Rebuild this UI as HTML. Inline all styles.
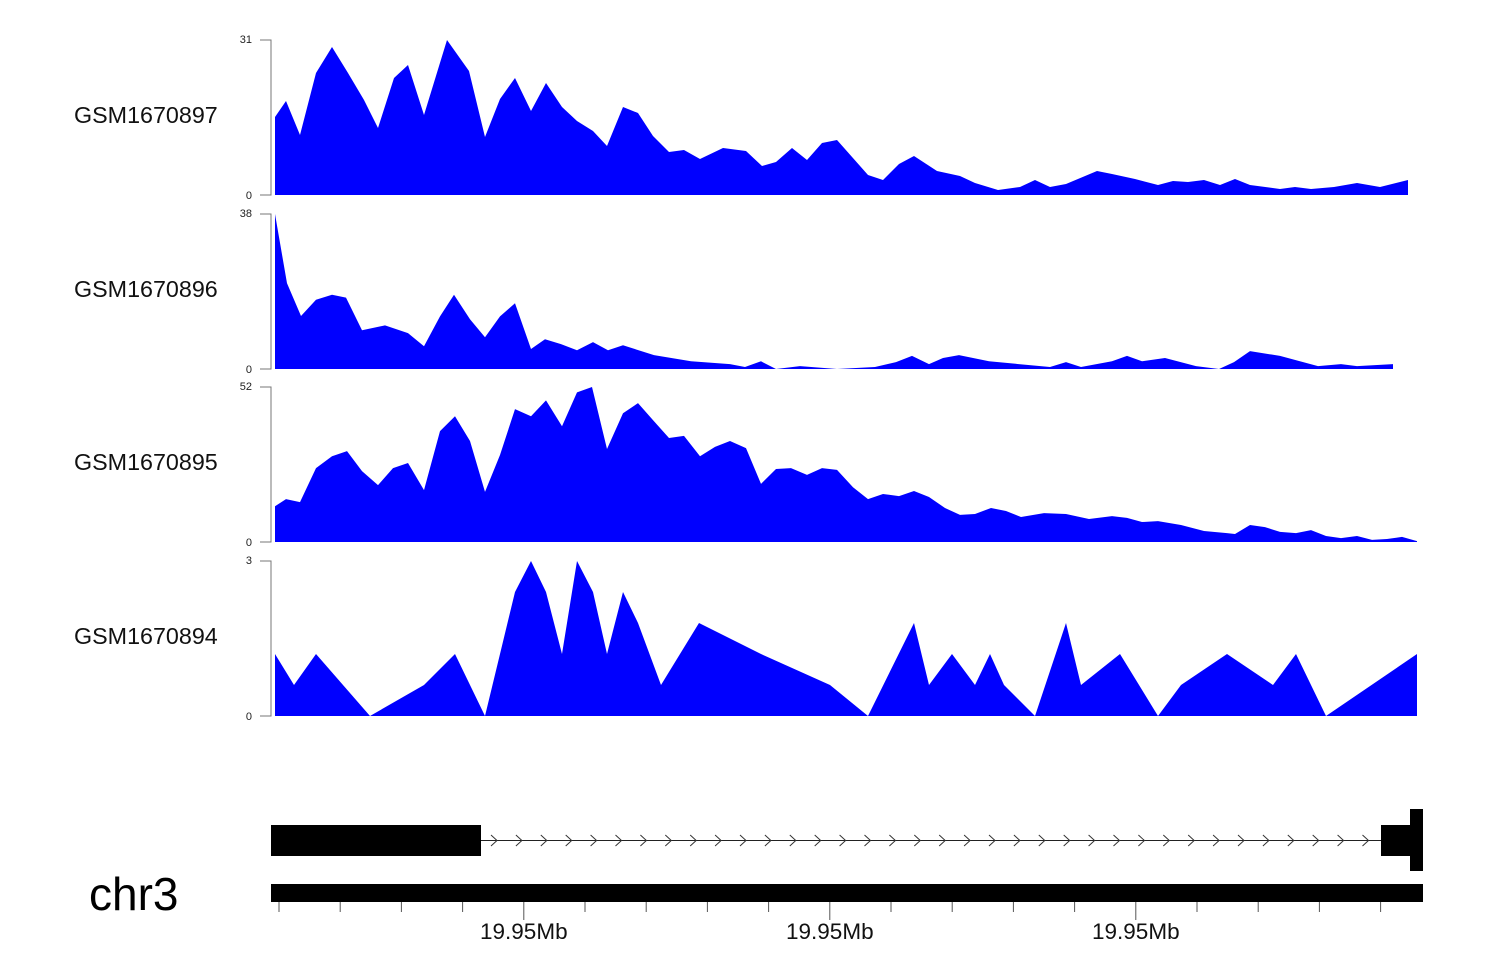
<!DOCTYPE html>
<html><head><meta charset="utf-8"><style>
html,body{margin:0;padding:0;background:#fff;}
svg{display:block;font-family:"Liberation Sans",sans-serif;}
</style></head><body>
<svg id="c" width="1500" height="980"></svg>
<script>
// genomic positions are offsets along the plotted region (0..1142)
const t1Pos=[0,11,25,41,57,73,89,103,119,133,149,172,194,210,225,240,256,271,287,302,318,332,348,363,378,394,409,425,448,471,487,501,517,532,547,562,593,608,624,639,662,685,700,723,745,760,775,791,822,837,860,883,898,913,929,945,960,975,1005,1020,1036,1059,1082,1105,1133];
const t1Val=[15.6,18.8,12,24.4,29.6,24.4,19,13.4,23.4,26,16,31,24.8,11.6,19.2,23.4,16.8,22.4,17.6,14.8,12.8,9.8,17.6,16.4,11.8,8.6,9,7.2,9.4,8.8,5.8,6.6,9.4,7,10.4,11,4,3,6.2,7.8,4.8,3.8,2.4,1,1.6,3,1.6,2.2,4.8,4.2,3.2,2,2.8,2.6,3,2,3.2,2,1.2,1.6,1.2,1.6,2.4,1.6,3];
const t2Pos=[0,12,26,41,57,71,87,110,133,149,165,179,195,210,225,240,256,270,286,302,318,333,348,379,416,455,470,486,501,525,562,600,621,637,654,668,684,714,775,791,806,837,852,867,890,921,944,959,975,1005,1043,1066,1082,1118];
const t2Val=[38,21,13,17,18.2,17.5,9.5,10.7,8.8,5.6,12.9,18.2,12.2,7.8,12.9,16.1,4.9,7.3,6.1,4.6,6.6,4.6,5.8,3.4,1.9,1.2,0.5,1.9,0,0.7,0,0.5,1.7,3.2,1.2,2.7,3.4,1.9,0.5,1.7,0.5,1.9,3.2,1.9,2.7,0.7,0,1.7,4.4,3.2,0.7,1.2,0.7,1.2];
const t3Pos=[0,11,25,41,57,72,87,103,118,133,149,165,180,195,210,225,240,256,271,287,302,317,332,348,363,378,394,409,425,440,455,471,486,501,516,532,547,562,578,593,608,624,639,654,670,685,700,716,731,746,769,791,814,837,852,867,883,906,929,952,960,975,990,1005,1021,1036,1051,1066,1082,1097,1112,1127,1142];
const t3Val=[12,14.4,13.4,24.8,28.8,30.5,23.8,19.1,24.8,26.5,17.4,37.2,42.2,33.9,16.8,29.2,44.6,42.2,47.5,38.8,50.2,52,31.2,43.2,46.6,40.9,34.9,35.6,28.8,31.9,33.9,31.5,19.5,24.5,24.8,22.5,24.8,24.2,18.4,14.4,16.1,15.4,17.1,15.1,11.4,9.1,9.4,11.4,10.4,8.4,9.7,9.4,7.7,8.7,8.1,6.7,7,5.7,3.7,3,2.7,5.7,5.0,3.4,3.0,4.0,2.0,1.3,2.0,0.7,1.0,1.7,0.3];
const t4Pos=[0,19,41,95,149,180,210,240,256,271,287,302,318,332,348,363,386,424,486,555,593,639,654,677,700,715,729,760,791,806,845,883,906,952,998,1021,1051,1142];
const t4Val=[1.2,0.6,1.2,0,0.6,1.2,0,2.4,3,2.4,1.2,3,2.4,1.2,2.4,1.8,0.6,1.8,1.2,0.6,0,1.8,0.6,1.2,0.6,1.2,0.6,0,1.8,0.6,1.2,0,0.6,1.2,0.6,1.2,0,1.2];
const trackNames=["GSM1670897","GSM1670896","GSM1670895","GSM1670894"];
const trackMax=[31,38,52,3];
const axisTickLabels=["19.95Mb","19.95Mb","19.95Mb"];

const NS="http://www.w3.org/2000/svg";
const svg=document.getElementById('c');
function mk(tag,attrs,parent){const e=document.createElementNS(NS,tag);for(const k in attrs)e.setAttribute(k,attrs[k]);(parent||svg).appendChild(e);return e;}
const X0=275,XW=1142;
const xs=p=>X0+p/1142*XW;
const tracks=[[t1Pos,t1Val],[t2Pos,t2Val],[t3Pos,t3Val],[t4Pos,t4Val]];
const bases=[195,369,542,716];
tracks.forEach((tr,i)=>{
  const base=bases[i],top=base-155,mx=trackMax[i];
  const ys=v=>base-v/mx*155;
  const g=mk('g',{});
  
  
  let d='M'+xs(tr[0][0])+','+base;
  tr[0].forEach((p,j)=>{d+=' L'+xs(p).toFixed(1)+','+ys(tr[1][j]).toFixed(1);});
  d+=' L'+xs(tr[0][tr[0].length-1]).toFixed(1)+','+base+' Z';
  const a=mk('path',{d:d,fill:'#0000ff'},g);
  
  
  const ax=mk('path',{d:`M260,${top}H271V${base}H260`,fill:'none',stroke:'#777','stroke-width':1},g);
  
  
  const l1=mk('text',{x:252,y:top+3,'font-size':11,'text-anchor':'end',fill:'#222'},g);l1.textContent=mx;
  
  
  const l0=mk('text',{x:252,y:base+4,'font-size':11,'text-anchor':'end',fill:'#222'},g);l0.textContent='0';
  
  
  const nm=mk('text',{x:74,y:top+83,'font-size':23.3,fill:'#111'},g);nm.textContent=trackNames[i];
  
  
});
// gene model
const gm=mk('g',{});


mk('line',{x1:481,y1:840.5,x2:1382,y2:840.5,stroke:'#222','stroke-width':1},gm);
for(let x=494;x<1380;x+=24.9){mk('path',{d:`M${x-3},${835}L${x+3},${840.5}L${x-3},${846}`,fill:'none',stroke:'#333','stroke-width':1},gm);}
mk('rect',{x:271,y:825,width:210,height:31,fill:'#000'},gm);
mk('rect',{x:1381,y:825,width:30,height:31,fill:'#000'},gm);
mk('rect',{x:1410,y:809,width:13,height:62,fill:'#000'},gm);
const chr=mk('rect',{x:271,y:884,width:1152,height:18,fill:'#000'});


const ag=mk('g',{});


for(let k=0;k<19;k++){const x=279+k*61.2;const major=(k%5===4);
  mk('line',{x1:x,y1:902,x2:x,y2:major?920:912,stroke:'#555','stroke-width':1},ag);}
axisTickLabels.forEach((t,i)=>{const x=279+(4+i*5)*61.2;
  const e=mk('text',{x:x,y:939,'font-size':22.5,'text-anchor':'middle',fill:'#111'},ag);e.textContent=t;
  
  });
const c3=mk('text',{x:89,y:910,'font-size':46,fill:'#000'});c3.textContent='chr3';


</script>
</body></html>
